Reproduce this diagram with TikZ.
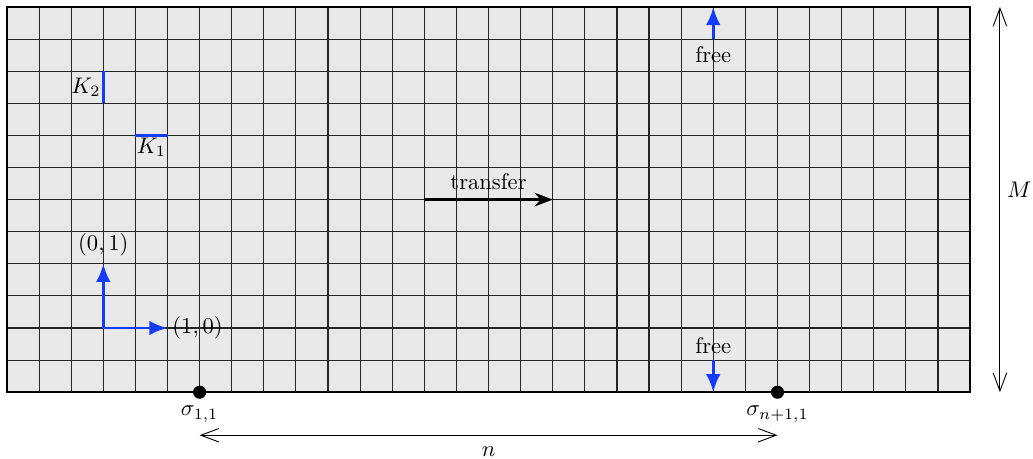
\documentclass[tikz,border=0pt]{standalone}
\usetikzlibrary{arrows.meta}
\definecolor{vecblue}{RGB}{20,60,255}
\definecolor{gridfill}{RGB}{233,233,233}
\begin{document}
\begin{tikzpicture}[x=0.5cm,y=0.5cm,
  bluearrow/.style={vecblue,line width=1.3pt,-{Latex[length=8pt,width=6.5pt]}},
  blueedge/.style={vecblue,line width=1.3pt},
  dimarrow/.style={line width=0.4pt,{Straight Barb[length=8pt,width=6pt]}-{Straight Barb[length=8pt,width=6pt]}},
  dot/.style={circle,fill=black,inner sep=0pt,minimum size=5.8pt},
  lbl/.style={inner sep=1pt}]
\useasboundingbox (-0.218,-2.056) rectangle (31.96,12.218);
% grid
\fill[gridfill] (0,0) rectangle (30,12);
\draw[line width=0.5pt,black!85,step=0.5cm] (0,0) grid (30,12);
\draw[line width=0.9pt] (0,0) rectangle (30,12);
% K2, K1
\coordinate (k2a) at (3,9); \coordinate (k2b) at (3,10);
\draw[blueedge] (k2a) -- (k2b);
\node[lbl,left] (K2) at (3,9.5) {$K_2$};
\coordinate (k1a) at (4,8); \coordinate (k1b) at (5,8);
\draw[blueedge] (k1a) -- (k1b);
\node[lbl,below] (K1) at (4.5,8) {$K_1$};
% basis vectors
\coordinate (o) at (3,2);
\coordinate (e2) at (3,4);
\coordinate (e1) at (5,2);
\draw[bluearrow] (o) -- (e2);
\draw[bluearrow] (o) -- (e1);
\node[lbl,above=2pt] (l01) at (e2) {$(0,1)$};
\node[lbl,right=1pt] (l10) at (e1) {$(1,0)$};
% transfer
\coordinate (ta) at (13,6); \coordinate (tb) at (17,6);
\draw[line width=1.4pt,-{Stealth[length=8pt,width=6pt]}] (ta) -- (tb);
\node[lbl,above=3pt] (tr) at (15,6) {transfer};
% free arrows
\coordinate (fta) at (22,11); \coordinate (ftb) at (22,12);
\draw[bluearrow] (fta) -- (ftb);
\node[lbl] (ft) at (22,10.5) {free};
\coordinate (fba) at (22,1); \coordinate (fbb) at (22,0);
\draw[bluearrow] (fba) -- (fbb);
\node[lbl] (fb) at (22,1.45) {free};
% sigma points
\node[dot] (s1) at (6,0) {};
\node[dot] (s2) at (24,0) {};
\node[lbl,below=5pt] (ls1) at (s1) {$\sigma_{1,1}$};
\node[lbl,below=5pt] (ls2) at (s2) {$\sigma_{n+1,1}$};
% n dimension
\coordinate (na) at (6,-1.34); \coordinate (nb) at (24,-1.34);
\draw[dimarrow] (na) -- (nb);
\node[lbl,below=4pt] (nl) at (15,-1.34) {$n$};
% M dimension
\coordinate (ma) at (30.93,0); \coordinate (mb) at (30.93,12);
\draw[dimarrow] (ma) -- (mb);
\node[lbl,right=2pt] (ml) at (30.93,6.3) {$M$};
\end{tikzpicture}
\end{document}
